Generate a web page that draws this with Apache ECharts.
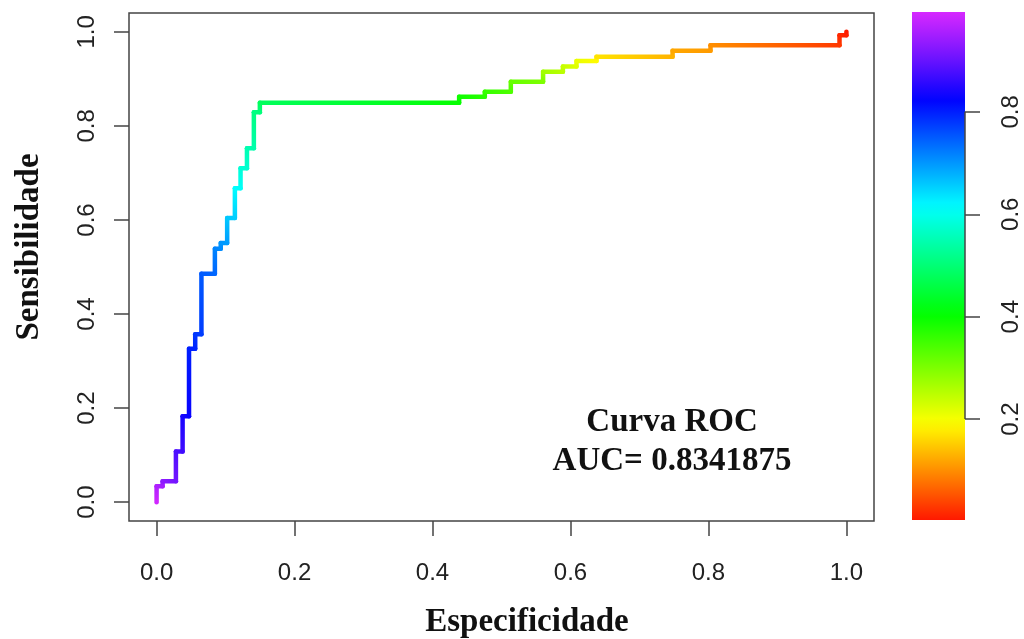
<!DOCTYPE html>
<html><head><meta charset="utf-8">
<script src="https://cdn.jsdelivr.net/npm/echarts@6/dist/echarts.min.js"></script>
<style>html,body{margin:0;padding:0;background:#fff}#c{width:1024px;height:639px}</style>
</head><body><div id="c"></div>
<script>
// ROC curve vertices (x = Especificidade axis, y = Sensibilidade), with cutoff at each vertex
const especificidade = [0,0,0.0087,0.0087,0.028,0.028,0.0377,0.0377,0.047,0.047,0.056,0.056,0.065,0.065,0.0845,0.0845,0.093,0.093,0.1023,0.1023,0.1135,0.1135,0.1217,0.1217,0.131,0.131,0.141,0.141,0.1497,0.1497,0.4386,0.4386,0.4758,0.4758,0.5135,0.5135,0.5603,0.5603,0.589,0.589,0.6087,0.6087,0.6377,0.6377,0.748,0.748,0.803,0.803,0.99,0.99,1.0,1.0];
const sensibilidade = [0,0.034,0.034,0.0446,0.0446,0.108,0.108,0.1826,0.1826,0.326,0.326,0.357,0.357,0.4856,0.4856,0.5386,0.5386,0.551,0.551,0.604,0.604,0.6675,0.6675,0.71,0.71,0.7524,0.7524,0.829,0.829,0.849,0.849,0.862,0.862,0.8726,0.8726,0.894,0.894,0.915,0.915,0.926,0.926,0.938,0.938,0.947,0.947,0.96,0.96,0.9717,0.9717,0.9928,0.9928,1.0];
const cutoff = [0.99,0.96,0.95,0.93,0.91,0.88,0.87,0.84,0.83,0.80,0.795,0.78,0.775,0.75,0.74,0.715,0.71,0.70,0.695,0.66,0.655,0.615,0.61,0.58,0.575,0.55,0.545,0.51,0.505,0.48,0.40,0.39,0.37,0.36,0.34,0.32,0.30,0.27,0.25,0.24,0.22,0.21,0.19,0.17,0.13,0.12,0.11,0.10,0.03,0.015,0.01,0.005];
const xTicks = [0,0.2,0.4,0.6,0.8,1.0];
const yTicks = [0,0.2,0.4,0.6,0.8,1.0];
const barTicks = [0.2,0.4,0.6,0.8];
const barRange = [0.003, 0.995];
const titleLines = ['Curva ROC','AUC= 0.8341875'];
const xName = 'Especificidade';
const yName = 'Sensibilidade';

function rampColor(v){
  const t = Math.max(0, Math.min(1, v));
  const h = 5 + t * 285;
  const l = 50 + (t > 0.82 ? (t - 0.82) * 45 : 0);
  return 'hsl(' + h.toFixed(1) + ',100%,' + l.toFixed(1) + '%)';
}

const segs = [];
for (let i = 1; i < especificidade.length; i++) {
  segs.push([especificidade[i-1], sensibilidade[i-1], especificidade[i], sensibilidade[i], cutoff[i-1], cutoff[i]]);
}

const barStops = [];
for (let k = 0; k <= 40; k++) {
  const t = k / 40;
  barStops.push({offset: t, color: rampColor(barRange[0] + (barRange[1]-barRange[0]) * t)});
}

const axisColor = '#444';
const labelColor = '#222';
const sans = '"Liberation Sans", Arial, sans-serif';
const serif = '"Liberation Serif", "Times New Roman", serif';

const chart = echarts.init(document.getElementById('c'), null, {renderer: 'canvas'});
chart.setOption({
  animation: false,
  backgroundColor: '#fff',
  grid: [
    {left: 129, right: 150, top: 13, bottom: 118, show: true, borderColor: axisColor, borderWidth: 1.5, backgroundColor: 'transparent', outerBoundsMode: 'none'},
    {left: 912, right: 59, top: 12, bottom: 119, show: false, outerBoundsMode: 'none'}
  ],
  xAxis: [
    {gridIndex: 0, type: 'value', min: -0.04, max: 1.04, position: 'bottom',
     axisLine: {show: false, onZero: false}, splitLine: {show: false},
     axisTick: {show: true, inside: false, length: 15, customValues: xTicks, lineStyle: {color: axisColor, width: 1.5}},
     axisLabel: {show: true, customValues: xTicks, margin: 40, fontSize: 24, fontFamily: sans, color: labelColor, formatter: v => v.toFixed(1)}},
    {gridIndex: 1, type: 'value', min: 0, max: 1, show: false, axisLine: {onZero: false}}
  ],
  yAxis: [
    {gridIndex: 0, type: 'value', min: -0.04, max: 1.04, position: 'left',
     axisLine: {show: false, onZero: false}, splitLine: {show: false},
     axisTick: {show: true, inside: false, length: 15, customValues: yTicks, lineStyle: {color: axisColor, width: 1.5}},
     axisLabel: {show: true, customValues: yTicks, margin: 30, rotate: 90, fontSize: 24, fontFamily: sans, color: labelColor, formatter: v => v.toFixed(1)}},
    {gridIndex: 1, type: 'value', position: 'right', min: barRange[0], max: barRange[1],
     axisLine: {show: false, onZero: false}, splitLine: {show: false},
     axisTick: {show: true, inside: false, length: 15, customValues: barTicks, lineStyle: {color: axisColor, width: 1.5}},
     axisLabel: {show: true, customValues: barTicks, margin: 34, rotate: 90, fontSize: 24, fontFamily: sans, color: labelColor, formatter: v => v.toFixed(1)}}
  ],
  series: [
    {type: 'custom', xAxisIndex: 0, yAxisIndex: 0, data: segs, clip: false,
     encode: {x: [0, 2], y: [1, 3]},
     renderItem: function (params, api) {
       const a = api.coord([api.value(0), api.value(1)]);
       const b = api.coord([api.value(2), api.value(3)]);
       const c0 = api.value(4), c1 = api.value(5);
       const bx = (a[0] === b[0] && a[1] === b[1]) ? b[0] + 1 : b[0];
       const grad = new echarts.graphic.LinearGradient(a[0], a[1], bx, b[1],
         [{offset: 0, color: rampColor(c0)}, {offset: 1, color: rampColor(c1)}], true);
       return {type: 'line', shape: {x1: a[0], y1: a[1], x2: b[0], y2: b[1]},
               style: {stroke: grad, lineWidth: 4.5, lineCap: 'round'}};
     }},
    {type: 'custom', xAxisIndex: 1, yAxisIndex: 1, data: [[barRange[0], barRange[1]]], clip: false,
     encode: {y: [0, 1]},
     renderItem: function (params, api) {
       const lo = api.coord([0, api.value(0)]);
       const hi = api.coord([1, api.value(1)]);
       return {type: 'rect', shape: {x: lo[0], y: hi[1], width: hi[0] - lo[0], height: lo[1] - hi[1]},
               style: {fill: new echarts.graphic.LinearGradient(0, 1, 0, 0, barStops)}};
     }},
    {type: 'line', xAxisIndex: 1, yAxisIndex: 1, symbol: 'none', silent: true, clip: false,
     data: [[1, barTicks[0]], [1, barTicks[barTicks.length - 1]]],
     lineStyle: {color: axisColor, width: 1.5}}
  ],
  graphic: [
    {type: 'text', x: 672, y: 422, style: {text: titleLines[0], font: 'bold 33px ' + serif, fill: '#111', textAlign: 'center', textVerticalAlign: 'middle'}},
    {type: 'text', x: 672, y: 461, style: {text: titleLines[1], font: 'bold 33px ' + serif, fill: '#111', textAlign: 'center', textVerticalAlign: 'middle'}},
    {type: 'text', x: 527, y: 622, style: {text: xName, font: 'bold 33px ' + serif, fill: '#111', textAlign: 'center', textVerticalAlign: 'middle'}},
    {type: 'text', x: 29, y: 247, rotation: Math.PI / 2, style: {text: yName, font: 'bold 33px ' + serif, fill: '#111', textAlign: 'center', textVerticalAlign: 'middle'}}
  ]
});
</script>
</body></html>
